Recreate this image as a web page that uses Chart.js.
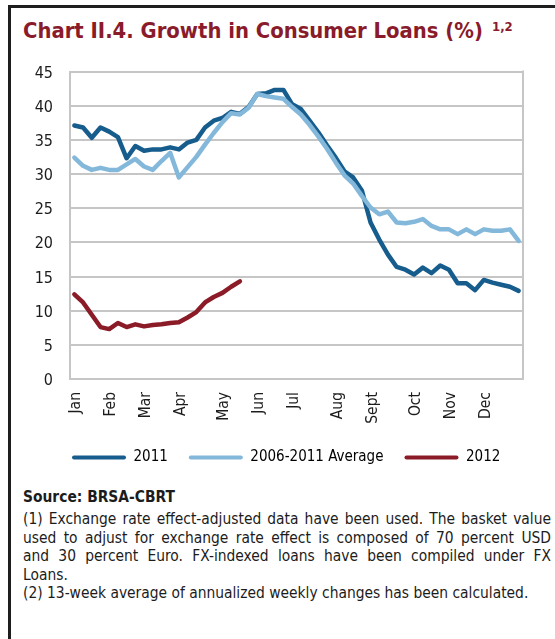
<!DOCTYPE html>
<html>
<head>
<meta charset="utf-8">
<script src="https://cdn.jsdelivr.net/npm/chart.js@4.4.1/dist/chart.umd.min.js"></script>
<style>
  html, body { margin: 0; padding: 0; background: #fff; width: 555px; height: 639px; overflow: hidden; }
  body { position: relative; font-family: 'DejaVu Sans Condensed', 'DejaVu Sans', sans-serif; color: #1c1c1c; }
  .frame { position: absolute; left: 8px; top: 5px; right: -10px; bottom: -10px;
           border-left: 3px solid #1e1e1e; border-top: 3px solid #1e1e1e; }
  .title { position: absolute; left: 23px; top: 18px; white-space: nowrap; color: #8a1b2b;
           font-weight: bold; font-size: 22px; line-height: 26px; }
  .title .main { display: inline-block; transform-origin: 0 0; }
  .title sup { position: absolute; left: 469px; top: 2px; font-size: 13px; line-height: 14px; white-space: nowrap; }
  #wrap { position: absolute; left: 0; top: 50px; width: 555px; height: 425px; }
  #wrap canvas { display: block; }
  .note { position: absolute; left: 23px; font-size: 15.4px; line-height: 18.5px; white-space: nowrap; }
  .note span { display: inline-block; transform-origin: 0 0; }
  .src { font-weight: bold; }
</style>
</head>
<body>
<div class="frame"></div>
<div class="title"><span class="main" data-w="460">Chart II.4. Growth in Consumer Loans (%)</span><sup>1,2</sup></div>
<div id="wrap"><canvas id="c" width="555" height="425"></canvas></div>

<div class="note src" style="top:488px"><span data-line="plain">Source: BRSA-CBRT</span></div>
<div class="note" style="top:510px"><span data-line="just">(1) Exchange rate effect-adjusted data have been used. The basket value</span></div>
<div class="note" style="top:528.5px"><span data-line="just">used to adjust for exchange rate effect is composed of 70 percent USD</span></div>
<div class="note" style="top:547px"><span data-line="just">and 30 percent Euro. FX-indexed loans have been compiled under FX</span></div>
<div class="note" style="top:565.5px"><span data-line="plain">Loans.</span></div>
<div class="note" style="top:584px"><span data-line="plain">(2) 13-week average of annualized weekly changes has been calculated.</span></div>

<script>
// Weekly growth rates (%), 52 weeks per year
const series2011 = [37.1, 36.8, 35.3, 36.8, 36.2, 35.4, 32.3, 34.1, 33.4, 33.6,
                    33.6, 33.9, 33.6, 34.6, 35.0, 36.8, 37.8, 38.2, 39.1, 38.8,
                    39.8, 41.7, 41.8, 42.3, 42.3, 40.2, 39.5, 37.8, 36.1, 34.2,
                    32.4, 30.4, 29.5, 27.6, 22.9, 20.4, 18.2, 16.4, 16.0, 15.3,
                    16.3, 15.5, 16.6, 16.0, 14.0, 14.0, 13.0, 14.5, 14.1, 13.8,
                    13.5, 12.9];
const seriesAverage = [32.4, 31.2, 30.6, 30.9, 30.6, 30.6, 31.4, 32.2, 31.1, 30.6,
                       31.9, 33.1, 29.5, 31.0, 32.5, 34.3, 36.0, 37.6, 38.9, 38.7,
                       39.7, 41.7, 41.4, 41.2, 41.0, 39.8, 38.7, 37.2, 35.5, 33.7,
                       31.7, 29.8, 28.6, 26.8, 25.1, 24.1, 24.5, 22.9, 22.8, 23.0,
                       23.4, 22.4, 21.9, 21.9, 21.2, 21.9, 21.2, 21.9, 21.7, 21.7,
                       21.9, 20.2];
const series2012 = [12.4, 11.2, 9.4, 7.6, 7.3, 8.2, 7.6, 8.0, 7.7, 7.9,
                    8.0, 8.2, 8.3, 9.0, 9.8, 11.2, 12.0, 12.6, 13.5, 14.3];

// Month names and the week each month label sits on
const monthNames = ['Jan', 'Feb', 'Mar', 'Apr', 'May', 'Jun', 'Jul', 'Aug', 'Sept', 'Oct', 'Nov', 'Dec'];
const monthWeeks = [0, 4, 8, 12, 17, 21, 25, 30, 34, 39, 43, 47];
const weekCount = 52;

const seriesNames = ['2011', '2006-2011 Average', '2012'];
const yTicks = { min: 0, max: 45, step: 5 };

const weekLabels = Array.from({ length: weekCount }, () => '');
monthWeeks.forEach((w, i) => { weekLabels[w] = monthNames[i]; });

const FONT = "'DejaVu Sans Condensed', 'DejaVu Sans', sans-serif";
const GRID = '#c6c6c6';
Chart.defaults.font.family = FONT;
Chart.defaults.color = '#1c1c1c';

// Gray frame on the right side of the plot area
const plotFrame = {
  id: 'plotFrame',
  beforeDatasetsDraw(chart) {
    const { ctx, chartArea: a } = chart;
    ctx.save();
    ctx.strokeStyle = GRID;
    ctx.lineWidth = 2;
    ctx.beginPath();
    ctx.moveTo(a.right, a.top - 1);
    ctx.lineTo(a.right, a.bottom + 1);
    ctx.stroke();
    ctx.restore();
  }
};

// Legend starts under the left edge of the plot
const legendShift = {
  id: 'legendShift',
  afterLayout(chart) {
    const lg = chart.legend;
    if (!lg || !lg.lineWidths) return;
    const pad = lg.options.labels.padding;
    const start = (lg.left + pad + lg.right - lg.lineWidths[0]) / 2;
    const dx = 72 - start;
    lg.left += dx;
    lg.right += dx;
  }
};

new Chart(document.getElementById('c'), {
  type: 'line',
  data: {
    labels: weekLabels,
    datasets: [
      { label: seriesNames[0], data: series2011, borderColor: '#165c8c', order: 3 },
      { label: seriesNames[1], data: seriesAverage, borderColor: '#83b8db', order: 2 },
      { label: seriesNames[2], data: series2012, borderColor: '#8b1c27', order: 1 }
    ]
  },
  options: {
    responsive: false,
    animation: false,
    events: [],
    layout: { padding: { left: 10, right: 32, top: 21.5, bottom: 0 } },
    elements: {
      line: { borderWidth: 4.5, tension: 0, borderJoinStyle: 'round', borderCapStyle: 'round', fill: false },
      point: { radius: 0, hoverRadius: 0 }
    },
    scales: {
      x: {
        type: 'category',
        offset: true,
        grid: { display: false, drawTicks: false },
        border: { display: false },
        ticks: { autoSkip: false, maxRotation: 90, minRotation: 90, padding: 13, labelOffset: 2,
                 font: { size: 15.5 }, color: '#1c1c1c' },
        afterFit(s) { s.height = 50; }
      },
      y: {
        min: yTicks.min, max: yTicks.max,
        grid: { color: GRID, lineWidth: 2, drawTicks: false },
        border: { color: GRID, width: 2 },
        ticks: { stepSize: yTicks.step, padding: 17, labelOffset: 2, font: { size: 16 }, color: '#1c1c1c' },
        afterFit(s) {
          s.width = 60;
          // only half a label of headroom above the top tick
          s.paddingTop = 10;
          s.paddingBottom = 10;
        }
      }
    },
    plugins: {
      tooltip: { enabled: false },
      legend: {
        position: 'bottom',
        labels: {
          boxWidth: 54, boxHeight: 4, padding: 21, color: '#1c1c1c',
          font: { size: 15 },
          generateLabels(chart) {
            return chart.data.datasets.map((d, i) => ({
              text: d.label, fillStyle: d.borderColor, strokeStyle: d.borderColor,
              lineWidth: 0, borderRadius: 2, hidden: false, datasetIndex: i
            }));
          }
        }
      }
    }
  },
  plugins: [plotFrame, legendShift]
});

// Title width
document.querySelectorAll('[data-w]').forEach(el => {
  const w = el.getBoundingClientRect().width;
  el.style.transform = 'scaleX(' + (parseFloat(el.dataset.w) / w) + ')';
});

// Footnote lines: common horizontal scale, justified lines spread to the full width
(function () {
  const target = 528;
  const just = Array.from(document.querySelectorAll('[data-line="just"]'));
  const all = Array.from(document.querySelectorAll('[data-line]'));
  const widest = Math.max(...just.map(el => el.getBoundingClientRect().width));
  const s = Math.min(1, target / widest);
  all.forEach(el => { el.style.transform = 'scaleX(' + s + ')'; });
  just.forEach(el => {
    const w = el.getBoundingClientRect().width / s;
    const spaces = (el.textContent.match(/ /g) || []).length;
    el.style.wordSpacing = ((target / s - w) / spaces) + 'px';
  });
})();
</script>
</body>
</html>
